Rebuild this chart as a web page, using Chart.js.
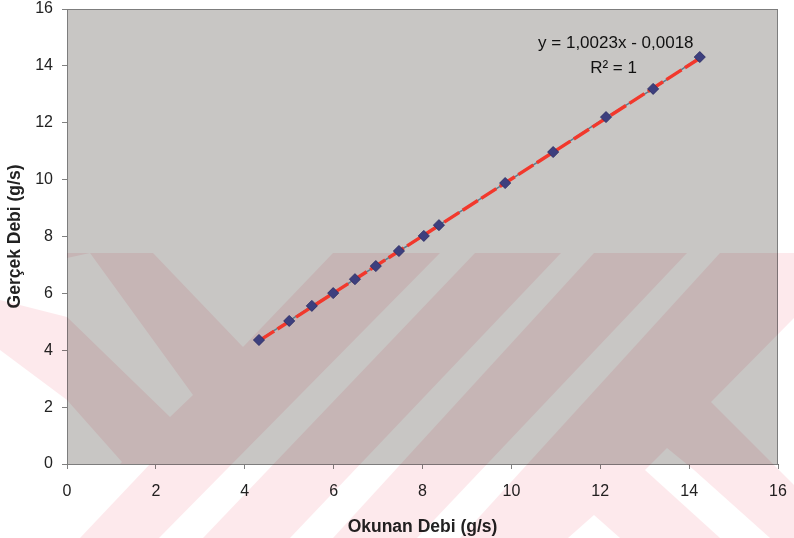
<!DOCTYPE html>
<html>
<head>
<meta charset="utf-8">
<script src="https://cdn.jsdelivr.net/npm/chart.js@4.4.1/dist/chart.umd.min.js"></script>
<style>
  body { margin: 0; background: #fff; }
  #myChart { display: block; }
</style>
</head>
<body>
<canvas id="myChart" width="794" height="538"></canvas>
<script>
// okunan (x) / gercek (y) debi, g/s
const okunan = [4.32, 5.00, 5.51, 5.99, 6.48, 6.95, 7.47, 8.03, 8.37, 9.86, 10.94, 12.13, 13.19, 14.24];
const gercek = [4.36, 5.03, 5.56, 6.01, 6.50, 6.96, 7.49, 8.02, 8.40, 9.88, 10.97, 12.20, 13.19, 14.31];

// trend line ends (as drawn in the picture)
const trendX = [4.32, 14.24];
const trendY = [4.33, 14.27];

const xTicks = [0, 2, 4, 6, 8, 10, 12, 14, 16];
const yTicks = [0, 2, 4, 6, 8, 10, 12, 14, 16];

const denklem = 'y = 1,0023x - 0,0018';
const rKare = 'R² = 1';

const FONT = '"Liberation Sans", Arial, sans-serif';

function pts(xs, ys) {
    return xs.map((x, i) => ({ x: x, y: ys[i] }));
}

// scanned thesis watermark, rough shapes (light gaps cut out of a pink band)
const wmGaps = [
    [[0, 253], [67, 253], [67, 258], [90, 253], [193, 395], [170, 417], [67, 317], [0, 300]],
    [[153, 253], [333, 253], [243, 347]],
    [[0, 350], [67, 400], [122, 462], [47, 538], [0, 538]],
    [[440, 253], [475, 253], [203, 538], [159, 538]],
    [[561, 253], [594, 253], [333, 538], [290, 538]],
    [[687, 253], [720, 253], [460, 538], [417, 538]],
    [[106, 464], [150, 464], [80, 538], [36, 538]],
    [[711, 402], [794, 318], [794, 485]],
    [[667, 448], [694, 470], [770, 538], [720, 538], [645, 470]],
    [[594, 515], [620, 538], [568, 538]]
];

const backgroundPlugin = {
    id: 'plotBg',
    beforeDraw(chart) {
        const ctx = chart.ctx;
        const a = chart.chartArea;
        ctx.save();
        ctx.fillStyle = '#ffffff';
        ctx.fillRect(0, 0, chart.width, chart.height);
        ctx.fillStyle = '#c8c6c4';
        ctx.fillRect(a.left, a.top, a.right - a.left, a.bottom - a.top);
        ctx.restore();
    },
    beforeDatasetsDraw(chart) {
        const ctx = chart.ctx;
        const a = chart.chartArea;
        ctx.save();
        ctx.strokeStyle = '#7d7d7d';
        ctx.lineWidth = 1;
        ctx.strokeRect(a.left + 0.5, a.top + 0.5, a.right - a.left - 1, a.bottom - a.top);

        // watermark
        const off = document.createElement('canvas');
        off.width = chart.width;
        off.height = chart.height;
        const o = off.getContext('2d');
        o.fillStyle = 'rgb(253,233,236)';
        o.fillRect(0, 253, chart.width, chart.height - 253);
        o.globalCompositeOperation = 'destination-out';
        o.fillStyle = '#000';
        wmGaps.forEach(p => {
            o.beginPath();
            o.moveTo(p[0][0], p[0][1]);
            for (let i = 1; i < p.length; i++) o.lineTo(p[i][0], p[i][1]);
            o.closePath();
            o.fill();
        });
        ctx.globalCompositeOperation = 'multiply';
        ctx.drawImage(off, 0, 0);
        ctx.restore();
    },
    afterDatasetsDraw(chart) {
        const ctx = chart.ctx;
        const xs = chart.scales.x;
        const ys = chart.scales.y;
        ctx.save();
        ctx.fillStyle = '#111';
        ctx.font = '17px ' + FONT;
        ctx.textAlign = 'center';
        ctx.textBaseline = 'middle';
        ctx.fillText(denklem, xs.getPixelForValue(12.35), ys.getPixelForValue(14.8));
        ctx.fillText(rKare, xs.getPixelForValue(12.3), ys.getPixelForValue(13.9));
        ctx.restore();
    }
};

const data = {
    datasets: [{
        label: 'Gerçek Debi',
        data: pts(okunan, gercek),
        showLine: false,
        pointStyle: 'rectRot',
        pointRadius: 5.5,
        pointBackgroundColor: '#3d3f7e',
        pointBorderColor: '#30326a',
        pointBorderWidth: 1,
        order: 1
    }, {
        label: 'Doğrusal',
        data: pts(trendX, trendY),
        showLine: true,
        borderColor: '#f2382c',
        borderWidth: 3.5,
        borderDash: [18, 4],
        pointRadius: 0,
        order: 2
    }, {
        label: 'Çizgi',
        data: pts(okunan, gercek),
        showLine: true,
        borderColor: '#5d7d8e',
        borderWidth: 1.5,
        pointRadius: 0,
        order: 3
    }]
};

const config = {
    type: 'scatter',
    data,
    options: {
        responsive: false,
        animation: false,
        layout: {
            padding: { top: 9, right: 16, bottom: 0, left: 0 }
        },
        plugins: {
            legend: { display: false },
            tooltip: { enabled: false }
        },
        scales: {
            x: {
                type: 'linear',
                min: 0,
                max: 16,
                afterBuildTicks: function (scale) {
                    scale.ticks = xTicks.map(v => ({ value: v }));
                },
                afterFit: function (scale) {
                    scale.height = 74;
                    scale.paddingLeft = 0;
                    scale.paddingRight = 0;
                },
                grid: {
                    drawOnChartArea: false,
                    drawTicks: true,
                    tickLength: 5,
                    color: '#808080'
                },
                border: { display: true, color: '#6a6a6a', width: 1 },
                ticks: {
                    padding: 13,
                    color: '#222',
                    font: { family: FONT, size: 16 }
                },
                title: {
                    display: true,
                    text: 'Okunan Debi (g/s)',
                    color: '#222',
                    padding: { top: 6, bottom: 0 },
                    font: { family: FONT, size: 17.5, weight: 'bold' }
                }
            },
            y: {
                type: 'linear',
                min: 0,
                max: 16,
                afterBuildTicks: function (scale) {
                    scale.ticks = yTicks.map(v => ({ value: v }));
                },
                afterFit: function (scale) {
                    scale.width = 67;
                    scale.paddingTop = 0;
                    scale.paddingBottom = 0;
                },
                grid: {
                    drawOnChartArea: false,
                    drawTicks: true,
                    tickLength: 5,
                    color: '#808080'
                },
                border: { display: true, color: '#6a6a6a', width: 1 },
                ticks: {
                    padding: 9,
                    color: '#222',
                    font: { family: FONT, size: 16 }
                },
                title: {
                    display: true,
                    text: 'Gerçek Debi (g/s)',
                    color: '#222',
                    padding: { top: 5, bottom: 0 },
                    font: { family: FONT, size: 17.5, weight: 'bold' }
                }
            }
        }
    },
    plugins: [backgroundPlugin]
};

const myChart = new Chart(document.getElementById('myChart'), config);
</script>
</body>
</html>
